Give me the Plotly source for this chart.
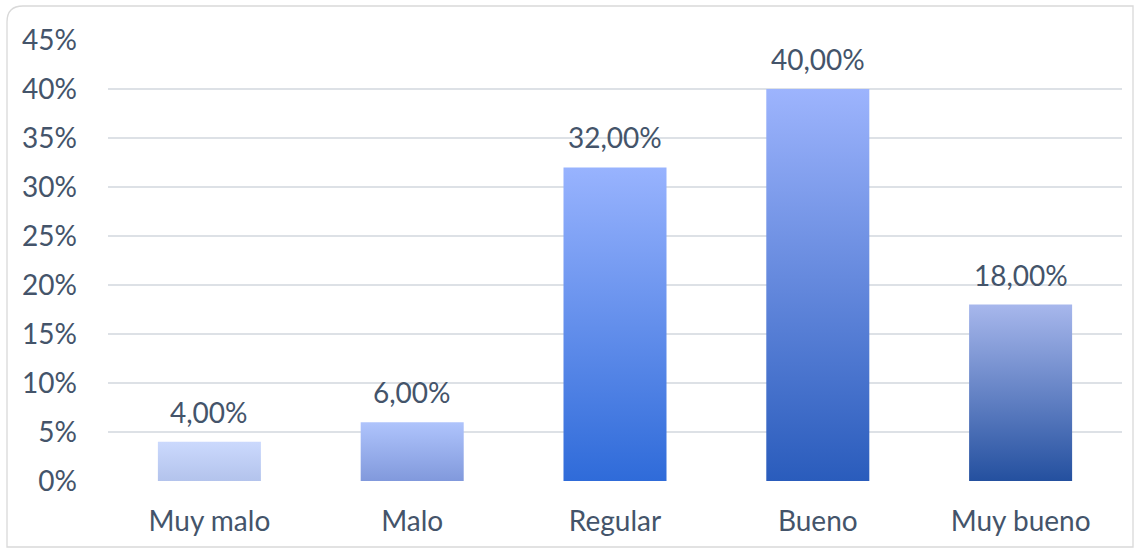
import plotly.graph_objects as go

categories = ["Muy malo", "Malo", "Regular", "Bueno", "Muy bueno"]
values = [4.0, 6.0, 32.0, 40.0, 18.0]
labels = ["4,00%", "6,00%", "32,00%", "40,00%", "18,00%"]
top_colors = ["#cbd9fd", "#afc4fc", "#98b3fe", "#9db4fd", "#a7b7ec"]
bottom_colors = ["#b3c3ec", "#8199dc", "#2f6bd9", "#2a5cbc", "#24509f"]
y_ticks = [0, 5, 10, 15, 20, 25, 30, 35, 40, 45]
y_ticktext = [f"{v}%" for v in y_ticks]

TEXT = "#44546a"
FONT = "Lato"
half = 0.254

fig = go.Figure()
for i, (v, tc, bc) in enumerate(zip(values, top_colors, bottom_colors)):
    fig.add_trace(go.Scatter(
        x=[i - half, i + half, i + half, i - half, i - half],
        y=[0, 0, v, v, 0],
        mode="lines", line=dict(width=0), fill="toself",
        fillgradient=dict(type="vertical", colorscale=[[0, bc], [1, tc]], start=0, stop=v),
        hoverinfo="skip", showlegend=False,
    ))
    fig.add_annotation(x=i, y=v, text=labels[i], showarrow=False, yanchor="bottom",
                       yshift=11, font=dict(family=FONT, size=28, color=TEXT))

# rounded border in paper coordinates
W, H = 1014.0, 441.0
x0, x1 = -101 / W, 1 + 11 / W
y0, y1 = -66 / H, 1 + 34 / H
rx, ry = 16 / W, 16 / H
path = (f"M {x0+rx},{y1} L {x1},{y1} L {x1},{y0} L {x0},{y0} L {x0},{y1-ry} "
        f"Q {x0},{y1} {x0+rx},{y1} Z")

fig.update_layout(
    width=1139, height=553,
    margin=dict(l=108, r=17, t=40, b=72),
    paper_bgcolor="white", plot_bgcolor="white",
    font=dict(family=FONT, color=TEXT, size=28),
    xaxis=dict(range=[-0.5, 4.5], tickvals=list(range(len(categories))), ticktext=categories,
               showgrid=False, zeroline=False, showline=False, ticks="",
               ticklabelstandoff=21, tickfont=dict(size=28, color=TEXT)),
    yaxis=dict(range=[0, 45], tickvals=y_ticks, ticktext=y_ticktext,
               showgrid=True, gridcolor="#dde1e6", gridwidth=1.5, zeroline=False,
               showline=False, ticks="", ticklabelstandoff=30,
               tickfont=dict(size=28, color=TEXT)),
    shapes=[dict(type="path", xref="paper", yref="paper", path=path,
                 line=dict(color="#d9d9d9", width=1.3), layer="below")],
)

fig.write_html("out.html", config={"displayModeBar": False},
               post_script="document.body.style.margin='0';")
